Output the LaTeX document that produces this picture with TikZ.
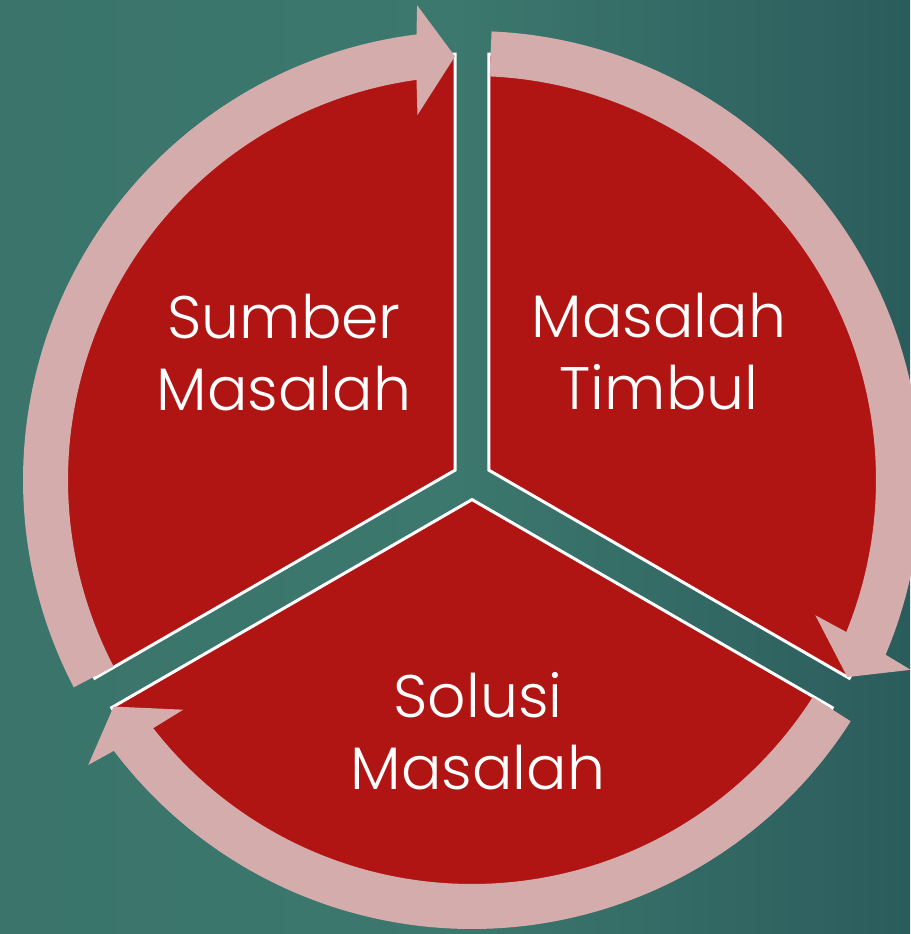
\documentclass[tikz,border=0pt]{standalone}
\usepackage{fontspec}
\setmainfont{Poppins Light}
\definecolor{cycleRed}{HTML}{B01513}
\definecolor{cyclePink}{HTML}{D5ACAC}
\definecolor{bgLeft}{HTML}{3A746B}
\definecolor{bgMid}{HTML}{3C786E}
\definecolor{bgRight}{HTML}{2B5C5C}

\begin{document}
\begin{tikzpicture}[x=1pt,y=1pt,every node/.style={font=\fontsize{60}{72}\selectfont,text=white,align=center}]
      \tikzstyle{slice}=[fill=cycleRed,draw=white,line width=3pt,line join=miter]
      \tikzstyle{ring}=[fill=cyclePink]
      \useasboundingbox (-472,-454) rectangle (438,480);
      \shade[left color=bgLeft,right color=bgRight,middle color=bgMid] (-472,-454) rectangle (438,480);

      % three slices, pushed out from the centre
      \filldraw[slice] (150:19.6) -- ++(90:416) arc[start angle=90,end angle=210,radius=416] -- cycle;
      \filldraw[slice] (30:19.6) -- ++(-30:416) arc[start angle=-30,end angle=90,radius=416] -- cycle;
      \filldraw[slice] (-90:19.6) -- ++(210:416) arc[start angle=210,end angle=330,radius=416] -- cycle;

      % circular arrows on top
      \fill[ring] (207.5:449) arc[start angle=207.5,end angle=97.1,radius=449] -- (96.6:478) -- (92.3:424)
        -- (98.5:369) -- (97.9:404) arc[start angle=97.9,end angle=207.5,radius=404] -- cycle;
      \fill[ring] (87.5:449) arc[start angle=87.5,end angle=-22.9,radius=449] -- (-23.4:478) -- (-27.7:424)
        -- (-21.5:369) -- (-22.1:404) arc[start angle=-22.1,end angle=87.5,radius=404] -- cycle;
      \fill[ring] (-32.5:449) arc[start angle=-32.5,end angle=-142.9,radius=449] -- (-143.4:478) -- (-147.7:424)
        -- (-141.5:369) -- (-142.1:404) arc[start angle=-142.1,end angle=-32.5,radius=404] -- cycle;

      \node (sumber) at (-188,127.5) {Sumber\\Masalah};
      \node (timbul) at (187,128.5) {Masalah\\Timbul};
      \node (solusi) at (6,-251.5) {Solusi\\Masalah};
\end{tikzpicture}
\end{document}
